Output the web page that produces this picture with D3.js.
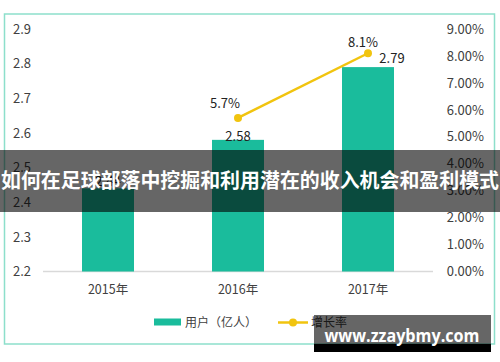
<!DOCTYPE html>
<html>
<head>
<meta charset="utf-8">
<script src="https://cdn.jsdelivr.net/npm/d3@7"></script>
<style>
  body { margin: 0; background: #fff; }
  svg { display: block; font-family: "Noto Sans CJK SC", "Open Sans", sans-serif; }
</style>
</head>
<body>
<svg id="chart"></svg>
<script>
'use strict';

const WIDTH = 500;
const HEIGHT = 362;
const TEAL = "#1abc9c";
const YELLOW = "#f1c40f";
const TEXT = "#404040";

// data
const years = ["2015年", "2016年", "2017年"];
const users = [2.44, 2.58, 2.79];
const growth = [null, 0.057, 0.081];
const leftTicks = [2.2, 2.3, 2.4, 2.5, 2.6, 2.7, 2.8, 2.9];
const rightTicks = [0, 0.01, 0.02, 0.03, 0.04, 0.05, 0.06, 0.07, 0.08, 0.09];
const legendNames = ["用户（亿人）", "增长率"];
const title = "如何在足球部落中挖掘和利用潜在的收入机会和盈利模式";
const watermark = "www.zzaybmy.com";

// label nudges, in px from the mark
const barLabelShift = [[0, -2], [0, 1], [24, -4]];
const lineLabelShift = [null, [-13, -10], [-5, -6]];

const svg = d3.select("svg#chart")
              .attr("width", WIDTH)
              .attr("height", HEIGHT);

svg.append("rect")
   .attr("x", 4.5).attr("y", 14)
   .attr("width", 490).attr("height", 330)
   .attr("fill", "none")
   .attr("stroke", "#8ddfcb")
   .attr("stroke-width", 1.5);

const xScale = d3.scaleBand()
                 .domain(years)
                 .range([43, 433])
                 .paddingInner(0.6)
                 .paddingOuter(0.3);
const yLeft = d3.scaleLinear()
                .domain([2.2, 2.9])
                .range([271.5, 29]);
const yRight = d3.scaleLinear()
                 .domain([0, 0.09])
                 .range([271.5, 29]);

const styleAxis = (g, size) => {
    g.select(".domain").remove();
    g.selectAll("text")
     .attr("fill", TEXT)
     .style("font-size", size + "px")
     .style("font-family", "'Noto Sans CJK SC', sans-serif");
};

svg.append("g")
   .attr("transform", "translate(31,0)")
   .call(d3.axisLeft(yLeft).tickValues(leftTicks).tickSize(0).tickPadding(0)
           .tickFormat(d3.format(".1f")))
   .call(g => styleAxis(g, 13));

svg.append("g")
   .attr("transform", "translate(484,0)")
   .call(d3.axisRight(yRight).tickValues(rightTicks).tickSize(0).tickPadding(0)
           .tickFormat(d3.format(".2%")))
   .call(g => styleAxis(g, 13))
   .call(g => g.selectAll("text").attr("text-anchor", "end").attr("x", 0));

svg.append("g")
   .attr("transform", "translate(0,271.5)")
   .call(d3.axisBottom(xScale).tickSize(0).tickPadding(13.5))
   .call(g => styleAxis(g, 12.5));

svg.append("line")
   .attr("x1", 43).attr("x2", 433)
   .attr("y1", yLeft(2.2)).attr("y2", yLeft(2.2))
   .attr("stroke", "#d9d9d9")
   .attr("stroke-width", 1.5);

const rows = years.map((y, i) => ({ year: y, users: users[i], growth: growth[i], i: i }));

svg.append("g")
   .selectAll("rect")
   .data(rows)
   .enter()
   .append("rect")
   .attr("x", d => xScale(d.year))
   .attr("y", d => yLeft(d.users))
   .attr("width", xScale.bandwidth())
   .attr("height", d => yLeft(2.2) - yLeft(d.users))
   .attr("fill", TEAL);

svg.append("g")
   .selectAll("text")
   .data(rows)
   .enter()
   .append("text")
   .attr("x", d => xScale(d.year) + xScale.bandwidth() / 2 + barLabelShift[d.i][0])
   .attr("y", d => yLeft(d.users) + barLabelShift[d.i][1])
   .attr("text-anchor", "middle")
   .attr("fill", "#222")
   .style("font-size", "13px")
   .text(d => d3.format(".2f")(d.users));

const pts = rows.filter(d => d.growth != null);
const cx = d => xScale(d.year) + xScale.bandwidth() / 2;

svg.append("path")
   .datum(pts)
   .attr("fill", "none")
   .attr("stroke", YELLOW)
   .attr("stroke-width", 2.5)
   .attr("d", d3.line().x(cx).y(d => yRight(d.growth)));

svg.append("g")
   .selectAll("circle")
   .data(pts)
   .enter()
   .append("circle")
   .attr("cx", cx)
   .attr("cy", d => yRight(d.growth))
   .attr("r", 4)
   .attr("fill", YELLOW);

svg.append("g")
   .selectAll("text")
   .data(pts)
   .enter()
   .append("text")
   .attr("x", d => cx(d) + lineLabelShift[d.i][0])
   .attr("y", d => yRight(d.growth) + lineLabelShift[d.i][1])
   .attr("text-anchor", "middle")
   .attr("fill", "#222")
   .style("font-size", "13px")
   .text(d => d3.format(".1%")(d.growth));

// legend
const legend = svg.append("g").attr("transform", "translate(0,322.5)");
legend.append("rect")
      .attr("x", 154).attr("y", -4)
      .attr("width", 27).attr("height", 7)
      .attr("fill", TEAL);
legend.append("text")
      .attr("x", 185).attr("dy", "0.35em")
      .attr("fill", TEXT)
      .style("font-size", "12px")
      .text(legendNames[0]);
legend.append("line")
      .attr("x1", 278).attr("x2", 308)
      .attr("stroke", YELLOW).attr("stroke-width", 2.5);
legend.append("circle")
      .attr("cx", 293).attr("r", 4)
      .attr("fill", YELLOW);
legend.append("text")
      .attr("x", 311).attr("dy", "0.35em")
      .attr("fill", TEXT)
      .style("font-size", "12px")
      .text(legendNames[1]);

// title banner
svg.append("rect")
   .attr("x", 0).attr("y", 150)
   .attr("width", WIDTH).attr("height", 62)
   .attr("fill", "rgba(0,0,0,0.6)");
svg.append("text")
   .attr("x", 250).attr("y", 181).attr("dy", "0.35em")
   .attr("text-anchor", "middle")
   .attr("fill", "#fff")
   .attr("textLength", 498)
   .attr("lengthAdjust", "spacingAndGlyphs")
   .style("font-size", "20px")
   .style("font-weight", "bold")
   .text(title);

// watermark
svg.append("rect")
   .attr("x", 314).attr("y", 315)
   .attr("width", 177).attr("height", 29)
   .attr("fill", "rgba(0,0,0,0.6)");
svg.append("rect")
   .attr("x", 314).attr("y", 344)
   .attr("width", 177).attr("height", 8)
   .attr("fill", "#000");
svg.append("text")
   .attr("x", 402).attr("y", 342)
   .attr("text-anchor", "middle")
   .attr("fill", "#fff")
   .attr("textLength", 155)
   .attr("lengthAdjust", "spacingAndGlyphs")
   .style("font-family", "'Open Sans', sans-serif")
   .style("font-size", "18px")
   .style("font-weight", "bold")
   .text(watermark);
</script>
</body>
</html>
